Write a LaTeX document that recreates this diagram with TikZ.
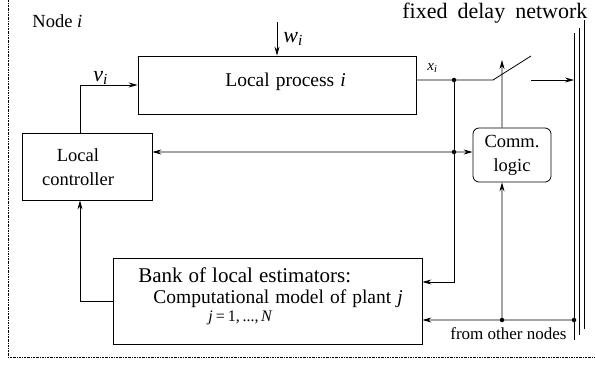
\documentclass[tikz,border=0pt]{standalone}
\usepackage{fontspec}
\setmainfont{Liberation Serif}
\usetikzlibrary{arrows.meta}
\newcommand\fsz[2]{\fontsize{#1bp}{#2bp}\selectfont}
\begin{document}
\begin{tikzpicture}[x=1bp,y=-1bp, line width=0.8bp,
  box/.style={draw, rectangle, inner sep=0pt},
  txt/.style={inner sep=0pt, font=\fsz{18.5}{24}},
  arr/.style={-{Stealth[length=9bp,width=5bp,inset=3bp]}},
  dotmark/.style={circle, fill, inner sep=0pt, minimum size=4.5bp},
  border/.style={line width=0.5bp, dash pattern=on 2bp off 1bp on 0.6bp off 1bp}]
\useasboundingbox (0,0) rectangle (595,366);

% frame
\draw[border] (8,0) -- (8,357) -- (595,357);

% boxes
\node[box, minimum width=278bp, minimum height=58bp] (proc) at (277,85) {};
\node[box, minimum width=130bp, minimum height=67bp] (ctrl) at (87,166.5) {};
\node[box, rounded corners=6bp, minimum width=78bp, minimum height=54bp, align=center, font=\fsz{18.5}{24}] (comm) at (512,155) {Comm.\\logic};
\node[box, minimum width=309bp, minimum height=86bp] (est) at (267.5,301) {};

% texts
\node[txt, anchor=base west, font=\fsz{19.5}{24}] (proctext) at (225,86) {Local\hspace{6bp}process\hspace{6bp}\textit{i}};
\node[txt, align=center] (ctrltext) at (78,167.5) {Local\\controller};
\node[txt, anchor=base west] (nodelbl) at (32,27) {Node \textit{i}};
\node[txt, anchor=base west, font=\fsz{22}{26}] (netlbl) at (402,18) {fixed\hspace{10bp}delay\hspace{10bp}network};
\node[txt, anchor=base west, font=\fsz{22}{26}] (wlbl) at (283,42) {\textit{w}\textsubscript{\textit{i}}};
\node[txt, anchor=base west, font=\fsz{22}{26}] (vlbl) at (93,81) {\textit{v}\textsubscript{\textit{i}}};
\node[txt, anchor=base west, font=\fsz{15}{18}] (xlbl) at (427,70) {\textit{x}\textsubscript{\textit{i}}};
\node[txt, anchor=base west, font=\fsz{21}{24}] (esttitle) at (138,282) {Bank\hspace{6bp}of\hspace{6bp}local\hspace{6bp}estimators:};
\node[txt, anchor=base west, font=\fsz{19.5}{24}] (estmodel) at (153,303) {Computational\hspace{6bp}model\hspace{6bp}of\hspace{6bp}plant\hspace{6bp}\textit{j}};
\node[txt, anchor=base west, font=\fsz{16}{18}] (estrange) at (208,321) {\textit{j}\hspace{3bp}=\hspace{3bp}1,\,...,\,\textit{N}};
\node[txt, anchor=base west, font=\fsz{17}{20}] (fromlbl) at (450,339) {from other nodes};

% coordinates
\coordinate (wtop) at (277,22);
\coordinate (d1) at (454,80);
\coordinate (d2) at (454,152);
\coordinate (d3) at (502,320);
\coordinate (d4) at (574,320);
\coordinate (sw1) at (493,80);
\coordinate (sw2) at (531,56);
\coordinate (swtip) at (502,60);
\coordinate (out1) at (531,80);
\coordinate (n1top) at (574,33);
\coordinate (n1bot) at (574,340);
\coordinate (n2top) at (579,28);
\coordinate (n2bot) at (579,335);
\coordinate (n3top) at (584,20);
\coordinate (n3bot) at (584,329);

% network
\draw (n1top) -- (n1bot);
\draw (n2top) -- (n2bot);
\draw (n3top) -- (n3bot);

% connectors
\draw[arr] (wtop) -- (proc.north);
\draw[arr] ([xshift=-7bp]ctrl.north) |- (proc.west);
\draw[arr] (est.west) -| ([xshift=-7bp]ctrl.south);
\draw ([yshift=5bp]proc.east) -- (d1) -- (sw1) -- (sw2);
\draw[arr] ([xshift=-10bp]comm.north) -- (swtip);
\draw[arr] (out1) -- (out1 -| n1top);
\draw[arr] (d1) |- ([yshift=19bp]est.east);
\draw[arr] (d2) -- ([yshift=14.5bp]ctrl.east);
\draw[arr] (d2) -- ([yshift=3bp]comm.west);
\draw[arr] (d4) -- ([yshift=-19bp]est.east);
\draw[arr] (d3) -- ([xshift=-10bp]comm.south);

% dots
\node[dotmark] (dot1) at (d1) {};
\node[dotmark] (dot2) at (d2) {};
\node[dotmark] (dot3) at (d3) {};
\node[dotmark] (dot4) at (d4) {};
\end{tikzpicture}
\end{document}
